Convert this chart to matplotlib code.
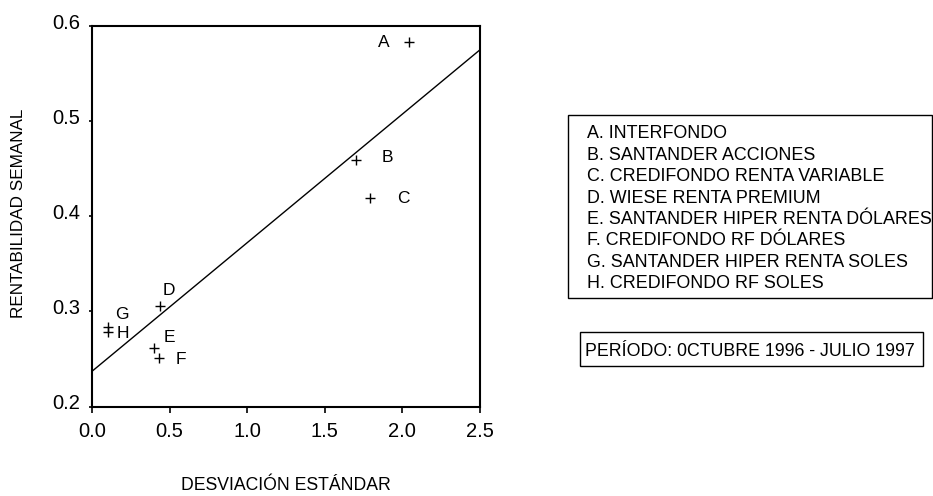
import matplotlib
matplotlib.use("Agg")
import matplotlib.pyplot as plt
from matplotlib.patches import Rectangle
import matplotlib.transforms as mtransforms

plt.rcParams['font.family'] = ['Liberation Sans', 'DejaVu Sans']

# Data
labels = ["A", "B", "C", "D", "E", "F", "G", "H"]
desviacion = [2.04, 1.70, 1.79, 0.44, 0.40, 0.43, 0.10, 0.10]
rentabilidad = [0.583, 0.459, 0.419, 0.306, 0.262, 0.251, 0.284, 0.278]
cml_x = [0.0, 2.5]
cml_y = [0.237, 0.575]
x_ticks = [0.0, 0.5, 1.0, 1.5, 2.0, 2.5]
y_ticks = [0.2, 0.3, 0.4, 0.5, 0.6]
fund_names = [
    "A. INTERFONDO",
    "B. SANTANDER ACCIONES",
    "C. CREDIFONDO RENTA VARIABLE",
    "D. WIESE RENTA PREMIUM",
    "E. SANTANDER HIPER RENTA DÓLARES",
    "F. CREDIFONDO RF DÓLARES",
    "G. SANTANDER HIPER RENTA SOLES",
    "H. CREDIFONDO RF SOLES",
]
periodo = "PERÍODO: 0CTUBRE 1996 - JULIO 1997"

# label offsets in points (style)
offsets = {"A": (-18, 0), "B": (23, 2), "C": (24, 0), "D": (6, 11),
           "E": (11, 7), "F": (16, -1), "G": (10, 9), "H": (11, -1)}

W, H = 933, 496
fig = plt.figure(figsize=(W / 100, H / 100), dpi=100)
ax = fig.add_axes([92 / W, 1 - 406.5 / H, (480 - 92) / W, (406.5 - 26) / H])

ax.plot(cml_x, cml_y, color="black", lw=1.0)
ax.plot(desviacion, rentabilidad, linestyle="none", marker="+", color="black",
        markersize=7, markeredgewidth=1.0)
for lab, xv, yv in zip(labels, desviacion, rentabilidad):
    ax.annotate(lab, (xv, yv), xytext=offsets[lab], textcoords="offset points",
                ha="center", va="center", fontsize=12.5)

ax.set_xlim(0, 2.5)
ax.set_ylim(0.2, 0.6)
ax.set_xticks(x_ticks)
ax.set_yticks(y_ticks)
ax.set_xticklabels([f"{v:.1f}" for v in x_ticks])
ax.set_yticklabels([f"{v:.1f}" for v in y_ticks])
ax.tick_params(axis="x", direction="out", length=4.3, width=1.2, labelsize=14.5, pad=7)
ax.tick_params(axis="y", direction="out", length=2.5, width=1.2, labelsize=14.5, pad=6)
shift = mtransforms.ScaledTranslation(0, 3.3 / 72, fig.dpi_scale_trans)
for t in ax.get_yticklabels():
    t.set_transform(t.get_transform() + shift)
for s in ax.spines.values():
    s.set_linewidth(1.5)

fig.text(19 / W, 1 - 213 / H, "RENTABILIDAD SEMANAL", rotation=90,
         ha="center", va="center", fontsize=12.3)
fig.text(286 / W, 1 - 485 / H, "DESVIACIÓN ESTÁNDAR",
         ha="center", va="center", fontsize=12.7)

# legend box
fig.patches.append(Rectangle((568 / W, 1 - 298 / H), (931.5 - 568) / W, (298 - 115) / H,
                             transform=fig.transFigure, fill=False, lw=1.0,
                             edgecolor="black"))
for i, name in enumerate(fund_names):
    fig.text(587 / W, 1 - (134 + i * 21.4) / H, name, ha="left", va="center",
             fontsize=12.9)

# period box
fig.patches.append(Rectangle((580 / W, 1 - 366 / H), (923 - 580) / W, (366 - 332) / H,
                             transform=fig.transFigure, fill=False, lw=1.0,
                             edgecolor="black"))
fig.text(585 / W, 1 - 352 / H, periodo, ha="left", va="center", fontsize=12.8)

fig.savefig("out.png", dpi=100)
